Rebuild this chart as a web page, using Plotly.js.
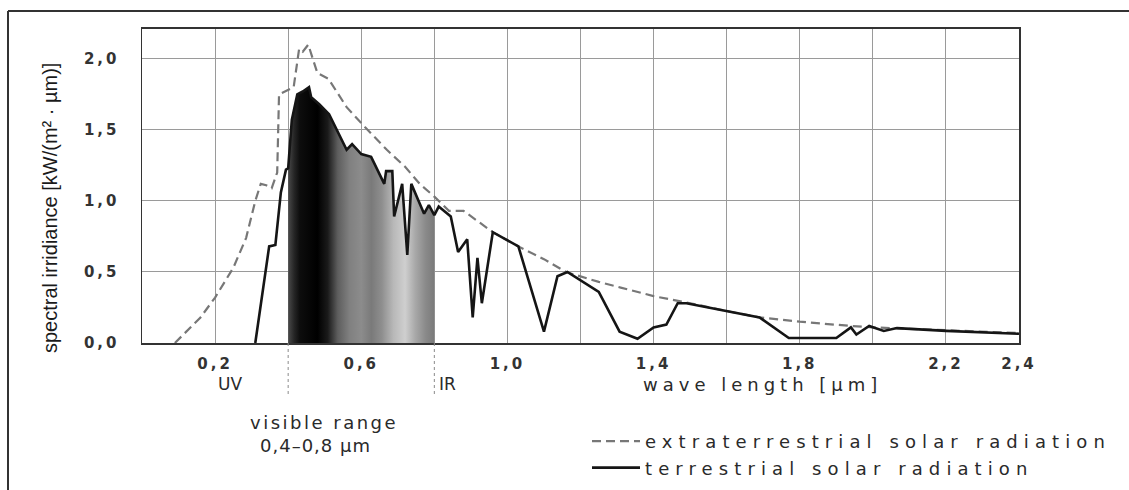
<!DOCTYPE html>
<html><head><meta charset="utf-8">
<script src="https://cdn.plot.ly/plotly-3.0.1.min.js"></script>
<style>
html,body{margin:0;padding:0;background:#fff;}
.xtick text,.ytick text{letter-spacing:3px;}
.legendtext{letter-spacing:6.1px;}
</style></head><body>
<div id="chart" style="width:1129px;height:490px;"></div>
<script>
// wavelength [µm] and spectral irradiance [kW/(m²·µm)]
const extraX = [0.09,0.16,0.20,0.25,0.285,0.31,0.325,0.34,0.355,0.37,0.375,0.40,0.415,0.43,0.44,0.455,0.48,0.51,0.56,0.61,0.67,0.72,0.76,0.80,0.84,0.88,0.96,1.03,1.10,1.16,1.25,1.31,1.40,1.50,1.59,1.69,1.80,1.94,2.00,2.10,2.20,2.30,2.40];
const extraY = [0.00,0.18,0.32,0.53,0.74,1.00,1.12,1.11,1.09,1.20,1.75,1.78,1.80,2.07,2.05,2.10,1.90,1.86,1.66,1.52,1.36,1.24,1.12,1.03,0.93,0.93,0.78,0.68,0.59,0.50,0.43,0.39,0.33,0.28,0.23,0.18,0.15,0.12,0.11,0.10,0.09,0.08,0.07];

const terrX = [0.31,0.348,0.365,0.38,0.394,0.40,0.41,0.425,0.44,0.457,0.463,0.485,0.512,0.56,0.575,0.60,0.627,0.663,0.668,0.685,0.69,0.712,0.726,0.737,0.757,0.772,0.785,0.80,0.812,0.845,0.865,0.89,0.905,0.918,0.93,0.96,1.03,1.10,1.137,1.164,1.25,1.307,1.356,1.40,1.435,1.466,1.49,1.59,1.69,1.77,1.90,1.94,1.955,1.99,2.03,2.066,2.20,2.40];
const terrY = [0.00,0.68,0.69,1.06,1.22,1.23,1.57,1.75,1.77,1.80,1.73,1.68,1.61,1.36,1.40,1.33,1.31,1.12,1.21,1.21,0.89,1.12,0.62,1.12,1.00,0.91,0.97,0.90,0.96,0.89,0.64,0.73,0.18,0.60,0.28,0.78,0.68,0.08,0.47,0.50,0.36,0.08,0.03,0.11,0.13,0.28,0.28,0.23,0.18,0.035,0.035,0.11,0.06,0.12,0.085,0.105,0.085,0.065];

const visibleRange = [0.4, 0.8];
const xTickVals = [0.2,0.4,0.6,0.8,1.0,1.2,1.4,1.6,1.8,2.0,2.2,2.4];
const xTickText = ['0,2','','0,6','','1,0','','1,4','','1,8','','2,2','2,4'];
const yTickVals = [0,0.5,1,1.5,2];
const yTickText = ['0,0','0,5','1,0','1,5','2,0'];
const seriesNames = ['extraterrestrial solar radiation','terrestrial solar radiation'];
const visibleShades = [[0,'#4a4a4a'],[0.04,'#262626'],[0.08,'#0d0d0d'],[0.2,'#000000'],[0.27,'#1a1a1a'],[0.34,'#5e5e5e'],[0.42,'#808080'],[0.5,'#8c8c8c'],[0.57,'#7a7a7a'],[0.64,'#8e8e8e'],[0.72,'#b8b8b8'],[0.8,'#cfcfcf'],[0.87,'#a8a8a8'],[0.94,'#8a8a8a'],[1,'#7a7a7a']];

const inVis = terrX.map(x => x >= visibleRange[0] && x <= visibleRange[1]);
const visX = terrX.filter((x,i) => inVis[i]);
const visY = terrY.filter((y,i) => inVis[i]);

const traces = [
  {x: visX, y: visY, type:'scatter', mode:'lines', line:{width:0}, fill:'tozeroy',
   fillgradient:{type:'horizontal', colorscale: visibleShades, start: visibleRange[0], stop: visibleRange[1]},
   showlegend:false, hoverinfo:'skip'},
  {x: extraX, y: extraY, type:'scatter', mode:'lines', name: seriesNames[0],
   line:{color:'#777777', width:2.2, dash:'9px,5px'}},
  {x: terrX, y: terrY, type:'scatter', mode:'lines', name: seriesNames[1],
   line:{color:'#151515', width:2.6}}
];

const W = 1129, H = 490, L = 142, R = 110, T = 29, B = 147;
const pw = W - L - R, ph = H - T - B;
const px = v => (v - L) / pw;          // pixel -> paper x
const py = v => (H - B - v) / ph;      // pixel -> paper y

const txtFont = {family:'DejaVu Sans, Liberation Sans, sans-serif', size:18, color:'#2a2a2a'};
const sp = (t, s) => '<span style="letter-spacing:' + s + 'px">' + t + '</span>';

const layout = {
  width: W, height: H,
  margin: {l: L, r: R, t: T, b: B, pad: 0, autoexpand: false},
  paper_bgcolor:'#ffffff', plot_bgcolor:'#ffffff',
  separators: ', ',
  showlegend: true,
  legend: {xref:'container', yref:'container', x: 587 / W, y: (H - 423) / H, xanchor:'left', yanchor:'top',
           bgcolor:'rgba(0,0,0,0)', font: txtFont, itemwidth: 48, tracegroupgap: 0, traceorder:'normal'},
  xaxis: {range:[0, 2.4], tickmode:'array', tickvals: xTickVals, ticktext: xTickText,
          showgrid:true, gridcolor:'#9a9a9a', gridwidth:1, zeroline:false, layer:'above traces',
          showline:true, linecolor:'#333', linewidth:2.4, mirror:true, ticks:'',
          ticklabelstandoff: 6, automargin:false,
          tickfont:{family:'DejaVu Sans, sans-serif', size:15, color:'#333', weight:'bold'}},
  yaxis: {range:[0, 2.21], tickmode:'array', tickvals: yTickVals, ticktext: yTickText,
          showgrid:true, gridcolor:'#9a9a9a', gridwidth:1, zeroline:false, layer:'above traces',
          showline:true, linecolor:'#333', linewidth:1.5, mirror:true, ticks:'',
          ticklabelstandoff: 18, automargin:false,
          tickfont:{family:'DejaVu Sans, sans-serif', size:15, color:'#333', weight:'bold'}},
  annotations: [
    {text:'spectral irridiance [kW/(m² · µm)]', xref:'paper', yref:'paper', x: px(50), y: py(208),
     textangle:-90, showarrow:false, xanchor:'center', yanchor:'middle',
     font:{family:'Liberation Sans Narrow, Liberation Sans, Arial, sans-serif', size:20, color:'#1a1a1a'}},
    {text:'UV', xref:'x', yref:'paper', x: 0.24, y: py(384), showarrow:false, xanchor:'center', yanchor:'middle',
     font:{family:'DejaVu Sans, sans-serif', size:17, color:'#2a2a2a'}},
    {text:'IR', xref:'x', yref:'paper', x: 0.837, y: py(384), showarrow:false, xanchor:'center', yanchor:'middle',
     font:{family:'DejaVu Sans, sans-serif', size:17, color:'#2a2a2a'}},
    {text: sp('wave length [µm]', 5), xref:'paper', yref:'paper', x: px(641), y: py(384), showarrow:false, xanchor:'left', yanchor:'middle', font: txtFont},
    {text: sp('visible range', 2.5), xref:'paper', yref:'paper', x: px(248), y: py(422), showarrow:false, xanchor:'left', yanchor:'middle', font: txtFont},
    {text: sp('0,4–0,8 µm', 1), xref:'paper', yref:'paper', x: px(258), y: py(445), showarrow:false, xanchor:'left', yanchor:'middle', font: txtFont}
  ],
  shapes: [
    {type:'line', xref:'x', yref:'paper', x0: visibleRange[0], x1: visibleRange[0], y0: 0, y1: py(395), line:{color:'#8a8a8a', width:1, dash:'dot'}},
    {type:'line', xref:'x', yref:'paper', x0: visibleRange[1], x1: visibleRange[1], y0: 0, y1: py(395), line:{color:'#8a8a8a', width:1, dash:'dot'}},
    {type:'line', xref:'paper', yref:'paper', x0: px(8), x1: px(1129), y0: py(11), y1: py(11), line:{color:'#333', width:2}},
    {type:'line', xref:'paper', yref:'paper', x0: px(8), x1: px(8), y0: py(11), y1: py(490), line:{color:'#333', width:2}}
  ]
};

Plotly.newPlot('chart', traces, layout, {staticPlot:true, displayModeBar:false});
</script>
</body></html>
